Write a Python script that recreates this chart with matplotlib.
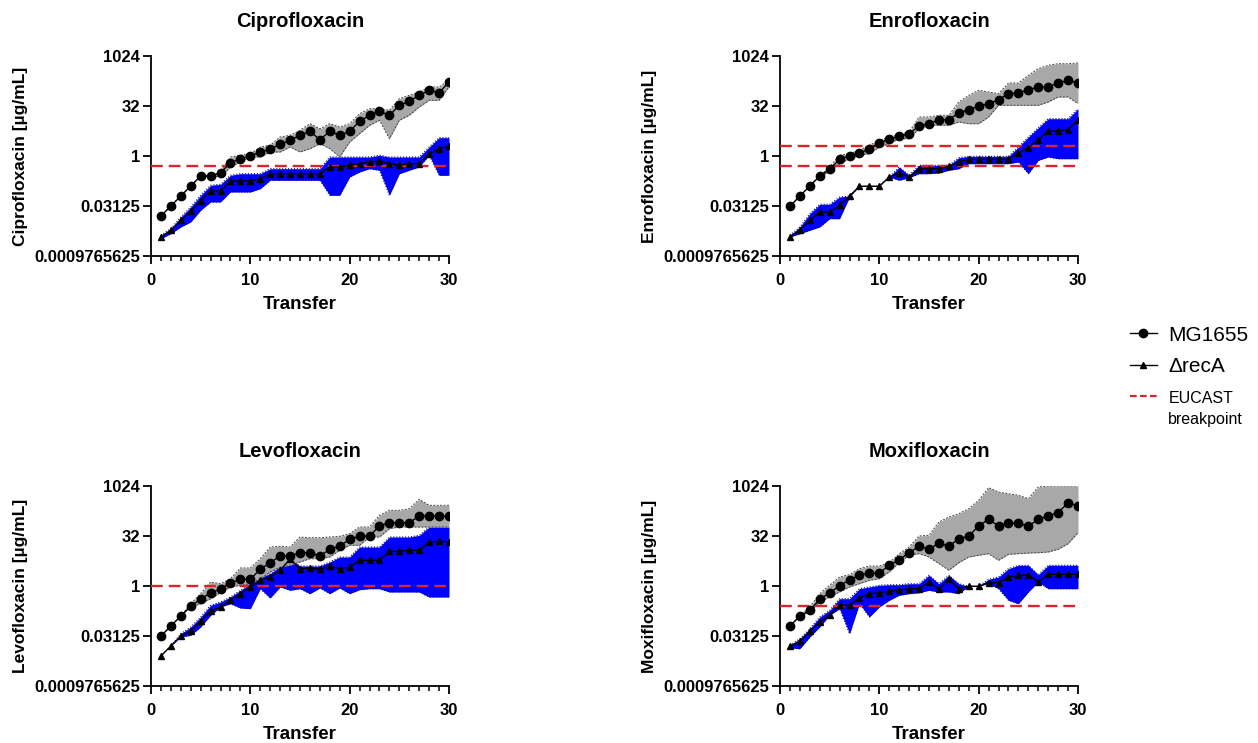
import numpy as np
import matplotlib
matplotlib.use("Agg")
import matplotlib.pyplot as plt
from matplotlib.lines import Line2D
from matplotlib.ticker import FixedLocator, MultipleLocator

plt.rcParams["font.family"] = ["Liberation Sans", "DejaVu Sans"]
plt.rcParams["font.weight"] = "bold"

transfer = np.arange(1, 31)

# all MIC values as log2(ug/mL)
cipro_wt = [-6.0, -5.0, -4.0, -3.0, -2.0, -2.0, -1.67, -0.67, -0.27, 0.0, 0.4, 0.67, 1.17, 1.57, 2.07,
            2.47, 1.63, 2.47, 2.07, 2.47, 3.47, 4.07, 4.47, 4.07, 5.07, 5.47, 6.07, 6.57, 6.33, 7.4]
cipro_wt_hi = [-6.0, -5.0, -4.0, -3.0, -2.0, -2.0, -1.67, -0.1, 0.07, 0.23, 0.9, 1.07, 1.9, 2.07, 2.57,
               3.23, 2.73, 3.23, 2.9, 3.23, 4.23, 4.73, 4.73, 4.57, 5.73, 6.07, 6.4, 6.9, 6.9, 7.57]
cipro_wt_lo = [-6.0, -5.0, -4.0, -3.0, -2.0, -2.0, -2.1, -1.1, -0.6, -0.1, -0.1, 0.4, 0.4, 0.9, 0.4,
               0.73, 1.23, 0.73, -0.1, 1.4, 2.23, 3.07, 3.57, 1.73, 3.57, 4.07, 4.9, 5.57, 5.57, 6.9]
cipro_reca = [-8.1, -7.43, -6.43, -5.53, -4.5, -3.5, -3.5, -2.5, -2.5, -2.5, -2.27, -1.77, -1.77, -1.77, -1.77,
              -1.77, -1.77, -1.1, -1.1, -0.93, -0.77, -0.6, -0.5, -0.77, -0.93, -0.77, -0.77, 0.23, 0.73, 0.97]
cipro_reca_hi = [-7.93, -7.27, -6.1, -5.1, -3.93, -2.93, -2.83, -1.93, -1.77, -1.77, -1.77, -1.27, -1.27, -1.27, -1.27,
                 -1.27, -1.27, -0.1, -0.1, -0.1, -0.1, -0.1, 0.07, -0.1, -0.1, -0.1, -0.1, 0.9, 1.83, 1.83]
cipro_reca_lo = [-8.27, -7.77, -7.1, -6.6, -5.43, -4.6, -4.6, -3.6, -3.6, -3.6, -3.27, -2.43, -2.43, -2.43, -2.43,
                 -2.43, -2.43, -3.93, -3.93, -2.1, -1.6, -1.27, -1.43, -3.93, -1.77, -1.43, -1.1, 0.07, -1.93, -1.93]
cipro_bp = [-1.0]

enro_wt = [-5.03, -4.0, -3.0, -2.0, -1.33, -0.33, 0.0, 0.3, 0.67, 1.33, 1.67, 1.97, 2.23, 3.0, 3.23,
           3.63, 3.63, 4.3, 4.63, 4.97, 5.23, 5.63, 6.23, 6.3, 6.63, 6.9, 6.9, 7.3, 7.57, 7.3]
enro_wt_hi = [-5.03, -4.0, -3.0, -2.0, -1.1, 0.07, 0.23, 0.57, 1.07, 1.57, 1.9, 2.13, 2.4, 3.9, 3.9,
              4.07, 4.07, 5.4, 6.07, 6.57, 6.4, 6.23, 7.3, 7.3, 8.07, 8.73, 9.07, 9.23, 9.23, 9.3]
enro_wt_lo = [-5.03, -4.0, -3.0, -2.0, -1.6, -0.77, -0.27, 0.07, 0.23, 0.9, 1.23, 1.73, 1.73, 2.73, 3.07,
              3.07, 3.07, 3.4, 3.23, 3.23, 3.9, 5.07, 5.07, 5.07, 5.07, 5.07, 5.4, 5.9, 5.9, 5.23]
enro_reca = [-8.1, -7.37, -6.43, -5.6, -5.6, -4.93, -4.0, -3.03, -3.03, -3.03, -2.1, -1.67, -2.1, -1.27, -1.27,
             -1.27, -1.03, -0.6, -0.33, -0.33, -0.33, -0.33, -0.33, 0.3, 0.83, 1.57, 2.5, 2.5, 2.63, 3.63]
enro_reca_hi = [-7.93, -7.1, -5.77, -4.83, -4.83, -4.1, -4.0, -3.03, -3.03, -3.03, -2.1, -1.1, -1.93, -0.93, -0.93,
                -0.93, -0.93, -0.17, -0.03, -0.03, -0.03, -0.03, -0.03, 0.9, 1.9, 2.83, 3.73, 3.73, 3.73, 4.73]
enro_reca_lo = [-8.1, -7.77, -7.43, -7.1, -6.27, -6.27, -4.1, -3.03, -3.03, -3.03, -2.1, -2.43, -2.17, -1.77, -1.77,
                -1.7, -1.43, -1.27, -0.77, -0.77, -0.77, -0.77, -0.77, -0.6, -1.77, -0.43, -0.1, -0.27, -0.27, -0.27]
enro_bp = [1.0, -1.0]

levo_wt = [-5.0, -4.0, -3.0, -2.0, -1.33, -0.67, -0.33, 0.33, 0.67, 0.67, 1.67, 2.33, 3.0, 3.0, 3.33,
           3.33, 3.0, 3.67, 4.0, 4.67, 5.0, 5.0, 6.0, 6.33, 6.33, 6.33, 7.0, 7.0, 7.0, 7.0]
levo_wt_hi = [-5.0, -4.0, -3.0, -1.77, -0.77, 0.4, 0.23, 0.73, 1.8, 1.8, 2.73, 3.9, 3.97, 3.9, 4.9,
              4.83, 4.83, 4.9, 4.97, 5.23, 5.9, 5.9, 7.07, 7.57, 7.57, 7.73, 8.67, 8.07, 8.07, 8.07]
levo_wt_lo = [-5.0, -4.0, -3.0, -2.1, -1.77, -1.27, -0.67, -0.1, 0.07, 0.23, 0.73, 1.4, 1.9, 2.07, 2.4,
              2.73, 2.73, 2.9, 3.57, 4.07, 4.07, 4.9, 4.9, 5.73, 5.9, 5.9, 5.9, 5.9, 5.9, 5.9]
levo_reca = [-7.0, -6.0, -5.0, -4.5, -3.5, -2.5, -2.1, -1.43, -0.77, -0.1, 0.57, 0.9, 1.57, 2.7, 1.73,
             1.8, 1.67, 2.0, 1.73, 1.9, 2.57, 2.57, 2.57, 3.47, 3.47, 3.57, 3.57, 4.4, 4.47, 4.4]
levo_reca_hi = [-7.0, -6.0, -4.77, -4.1, -3.1, -1.93, -1.6, -1.1, -0.43, 0.23, 0.9, 1.23, 2.0, 2.7, 2.0,
                2.0, 2.0, 2.4, 2.9, 2.9, 3.9, 3.9, 3.9, 4.9, 4.9, 4.9, 5.07, 5.9, 5.9, 5.9]
levo_reca_lo = [-7.0, -6.0, -5.1, -4.93, -4.1, -2.93, -2.1, -1.77, -2.2, -2.27, -0.27, -1.2, -0.1, -0.43, -0.27,
                -0.77, -0.2, -0.77, -0.2, -0.77, -0.37, -0.27, -0.27, -0.6, -0.6, -0.6, -0.6, -1.1, -1.1, -1.1]
levo_bp = [0.0]

moxi_wt = [-4.0, -3.0, -2.43, -1.33, -0.67, 0.0, 0.63, 1.07, 1.3, 1.3, 2.07, 2.63, 3.33, 3.97, 3.67,
           4.3, 3.97, 4.73, 5.0, 6.0, 6.67, 6.0, 6.3, 6.3, 5.97, 6.67, 7.0, 7.33, 8.33, 8.0]
moxi_wt_hi = [-4.0, -3.0, -2.1, -0.77, 0.07, 0.9, 1.13, 1.73, 2.0, 2.0, 2.33, 3.23, 3.9, 5.0, 5.07,
              6.4, 6.9, 7.23, 7.73, 8.57, 9.83, 9.4, 9.23, 9.07, 8.73, 9.9, 10.0, 10.0, 10.0, 10.0]
moxi_wt_lo = [-4.0, -3.0, -2.6, -1.6, -1.1, -0.6, -0.1, 0.23, 0.57, 0.73, 1.4, 2.33, 3.07, 3.23, 2.9,
              2.23, 1.57, 2.33, 2.9, 3.07, 3.23, 2.57, 3.17, 3.23, 3.3, 3.33, 3.4, 3.67, 4.23, 5.33]
moxi_reca = [-6.03, -5.53, -4.53, -3.6, -2.93, -1.93, -1.93, -1.2, -0.77, -0.67, -0.5, -0.43, -0.27, -0.27, 0.4,
             -0.33, 0.67, -0.27, -0.03, -0.03, 0.33, 0.33, 0.9, 1.07, 1.13, 0.4, 1.17, 1.17, 1.17, 1.17]
moxi_reca_hi = [-5.93, -5.27, -4.27, -3.1, -2.43, -1.27, -1.27, -0.27, -0.1, 0.07, 0.13, 0.13, 0.23, 0.23, 1.07,
                0.23, 1.07, 0.23, -0.03, -0.03, 0.67, 0.9, 1.73, 2.07, 2.07, 1.13, 2.07, 2.07, 2.07, 2.07]
moxi_reca_lo = [-6.2, -6.27, -5.1, -4.1, -2.93, -2.27, -4.77, -1.77, -3.1, -2.1, -1.43, -0.93, -0.77, -0.67, -0.43,
                -0.6, -0.6, -0.77, -0.03, -0.03, 0.23, -0.27, -1.43, -1.77, -0.6, 0.4, -0.27, -0.27, -0.27, -0.27]
moxi_bp = [-2.0]

ytick_vals = [-10, -5, 0, 5, 10]
ytick_labels = ["0.0009765625", "0.03125", "1", "32", "1024"]

panels = [
    ("Ciprofloxacin", cipro_wt, cipro_wt_hi, cipro_wt_lo, cipro_reca, cipro_reca_hi, cipro_reca_lo, cipro_bp),
    ("Enrofloxacin", enro_wt, enro_wt_hi, enro_wt_lo, enro_reca, enro_reca_hi, enro_reca_lo, enro_bp),
    ("Levofloxacin", levo_wt, levo_wt_hi, levo_wt_lo, levo_reca, levo_reca_hi, levo_reca_lo, levo_bp),
    ("Moxifloxacin", moxi_wt, moxi_wt_hi, moxi_wt_lo, moxi_reca, moxi_reca_hi, moxi_reca_lo, moxi_bp),
]

W, H = 1258, 743
fig = plt.figure(figsize=(W / 100, H / 100), dpi=100)
boxes = [(151, 56), (780, 56), (151, 486), (780, 486)]  # left, top in px

red = "#d8262a"

for (name, wt, wt_hi, wt_lo, rc, rc_hi, rc_lo, bps), (lx, ty) in zip(panels, boxes):
    ax = fig.add_axes([lx / W, 1 - (ty + 200) / H, 298 / W, 200 / H])
    p2 = lambda v: 2.0 ** np.array(v)

    ax.fill_between(transfer, p2(rc_lo), p2(rc_hi), color="#0000ff", lw=0, zorder=1)
    ax.plot(transfer, p2(rc_hi), ls=":", color="#000080", lw=0.8, zorder=1.5)
    ax.plot(transfer, p2(rc_lo), ls=":", color="#000080", lw=0.8, zorder=1.5)
    ax.fill_between(transfer, p2(wt_lo), p2(wt_hi), color="#a8a8a8", lw=0, zorder=2)
    ax.plot(transfer, p2(wt_hi), ls="--", color="#444444", lw=0.7, dashes=(2, 1.5), zorder=2.5)
    ax.plot(transfer, p2(wt_lo), ls="--", color="#444444", lw=0.7, dashes=(2, 1.5), zorder=2.5)

    for bp in bps:
        ax.axhline(2.0 ** bp, color=red, lw=1.7, ls="--", dashes=(5, 2.5), zorder=3)

    ax.plot(transfer, p2(wt), "-o", color="black", lw=1.0, ms=6, zorder=5)
    ax.plot(transfer, p2(rc), "-^", color="black", lw=1.0, ms=4.5, zorder=4)

    ax.set_yscale("log", base=2)
    ax.set_ylim(2.0 ** -10, 2.0 ** 10)
    ax.set_xlim(0, 30)
    ax.yaxis.set_major_locator(FixedLocator([2.0 ** t for t in ytick_vals]))
    ax.yaxis.set_minor_locator(FixedLocator([]))
    ax.set_yticklabels(ytick_labels)
    ax.set_xticks([0, 10, 20, 30])
    ax.xaxis.set_minor_locator(MultipleLocator(1))
    ax.spines["top"].set_visible(False)
    ax.spines["right"].set_visible(False)
    ax.spines["left"].set_linewidth(1.3)
    ax.spines["bottom"].set_linewidth(1.3)
    ax.tick_params(axis="both", which="major", length=6, width=1.3, labelsize=12)
    ax.tick_params(axis="y", which="major", pad=2)
    ax.tick_params(axis="x", which="major", pad=6)
    ax.tick_params(axis="x", which="minor", length=3.5, width=1.1)
    for lbl in ax.get_xticklabels() + ax.get_yticklabels():
        lbl.set_fontweight("bold")

    ax.set_title(name, fontsize=14.5, fontweight="bold", pad=21)
    ax.set_ylabel(name + " [µg/mL]", fontsize=12.5, fontweight="bold", labelpad=4)
    ax.set_xlabel("Transfer", fontsize=13.5, fontweight="bold", labelpad=6)

handles = [
    Line2D([], [], color="black", marker="o", ms=6, lw=1.0),
    Line2D([], [], color="black", marker="^", ms=5, lw=1.0),
    Line2D([], [], color=red, ls="--", dashes=(3, 1.5), lw=1.6),
]
leg = fig.legend(handles, ["MG1655", "ΔrecA", "EUCAST"], loc="upper left",
                 bbox_to_anchor=(1111 / W, 1 - 307 / H), frameon=False, handlelength=1.3,
                 handletextpad=0.55, labelspacing=0.6, prop={"weight": "normal", "size": 15})
eu_text = leg.get_texts()[2]
eu_text.set_fontsize(11.5)

# second line of the breakpoint label, left-aligned under "EUCAST"
fig.canvas.draw()
bb = eu_text.get_window_extent()
fig.text(bb.x0 / W, (bb.y0 - 13) / H, "breakpoint", fontsize=11.5, fontweight="normal",
         ha="left", va="center")

fig.savefig("out.png", dpi=100)
